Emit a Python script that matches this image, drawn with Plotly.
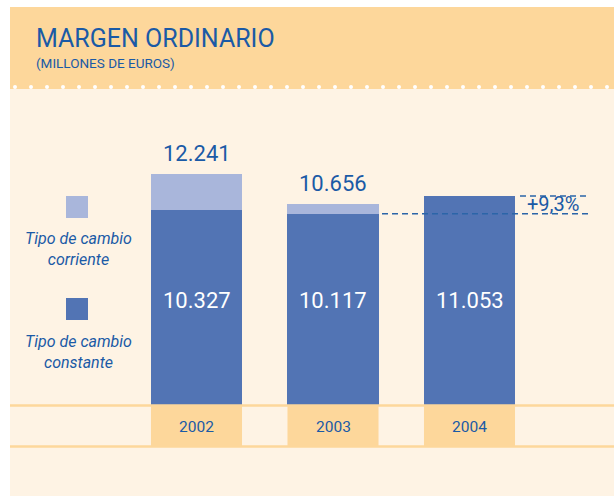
import plotly.graph_objects as go

years = ["2002", "2003", "2004"]
constante = [10327, 10117, 11053]
total = [12241, 10656, 11053]
corriente_extra = [t - c for t, c in zip(total, constante)]
total_labels = ["12.241", "10.656", ""]
constante_labels = ["10.327", "10.117", "11.053"]
growth_label = "+9,3%"

W, H = 614, 496
DARK = "#5274b4"
LIGHT = "#a9b6db"
HEAD = "#fdd79b"
BODY = "#fef3e4"
TXT = "#1a5aa6"
FONT = "Roboto"

fig = go.Figure()
fig.add_trace(go.Bar(x=years, y=constante, marker=dict(color=DARK, line=dict(width=0)),
                     width=0.667, hoverinfo="skip"))
fig.add_trace(go.Bar(x=years, y=corriente_extra, marker=dict(color=LIGHT, line=dict(width=0)),
                     width=0.667, hoverinfo="skip"))

def px(x):
    return x / W

def py(y):
    return 1 - y / H

shapes = []
# backgrounds
shapes.append(dict(type="rect", xref="paper", yref="paper", x0=px(10), x1=1, y0=0, y1=py(89),
                   fillcolor=BODY, line=dict(width=0), layer="below"))
shapes.append(dict(type="rect", xref="paper", yref="paper", x0=px(10), x1=1, y0=py(89), y1=py(7),
                   fillcolor=HEAD, line=dict(width=0), layer="below"))
# dotted line
x = 15
while x < W:
    shapes.append(dict(type="circle", xref="paper", yref="paper",
                       x0=px(x - 2), x1=px(x + 2), y0=py(89), y1=py(85),
                       fillcolor="white", line=dict(width=0), layer="below"))
    x += 16
# year boxes
for i, yr in enumerate(years):
    shapes.append(dict(type="rect", xref="x", yref="paper", x0=i - 0.3335, x1=i + 0.3335,
                       y0=py(446), y1=py(405), fillcolor=HEAD, line=dict(width=0), layer="below"))
# horizontal rules
for yy in (405.5, 446.5):
    shapes.append(dict(type="line", xref="paper", yref="paper", x0=px(10), x1=1, y0=py(yy), y1=py(yy),
                       line=dict(color=HEAD, width=2.5), layer="above"))
# legend squares
shapes.append(dict(type="rect", xref="paper", yref="paper", x0=px(66), x1=px(88), y0=py(218), y1=py(196),
                   fillcolor=LIGHT, line=dict(width=0)))
shapes.append(dict(type="rect", xref="paper", yref="paper", x0=px(66), x1=px(88), y0=py(320), y1=py(298),
                   fillcolor=DARK, line=dict(width=0)))
# dashed growth lines
shapes.append(dict(type="line", xref="paper", yref="y", x0=px(382), x1=px(590),
                   y0=constante[1], y1=constante[1], line=dict(color="#2b65a8", width=1.5, dash="6px,4px")))
shapes.append(dict(type="line", xref="paper", yref="y", x0=px(520), x1=px(590),
                   y0=constante[2], y1=constante[2], line=dict(color="#2b65a8", width=1.5, dash="6px,4px")))

ann = []
ann.append(dict(text="MARGEN ORDINARIO", xref="paper", yref="paper", x=px(34), y=py(39),
                xanchor="left", yanchor="middle", showarrow=False,
                font=dict(family=FONT, size=25, color=TXT)))
ann.append(dict(text="(MILLONES DE EUROS)", xref="paper", yref="paper", x=px(34), y=py(63),
                xanchor="left", yanchor="middle", showarrow=False,
                font=dict(family=FONT, size=13.5, color=TXT)))
for i, yr in enumerate(years):
    if total_labels[i]:
        ann.append(dict(text=total_labels[i], xref="x", yref="y", x=i, y=total[i], yshift=20,
                        showarrow=False, xanchor="center", yanchor="middle",
                        font=dict(family=FONT, size=22, color=TXT)))
    ann.append(dict(text=constante_labels[i], xref="x", yref="y", x=i, y=5550, showarrow=False,
                    xanchor="center", yanchor="middle",
                    font=dict(family=FONT, size=22, color="white")))
    ann.append(dict(text=yr, xref="x", yref="paper", x=i, y=py(426.5), showarrow=False,
                    xanchor="center", yanchor="middle",
                    font=dict(family=FONT, size=15.5, color=TXT)))
ann.append(dict(text=growth_label, xref="paper", yref="paper", x=px(553), y=py(204),
                showarrow=False, xanchor="center", yanchor="middle",
                font=dict(family=FONT, size=20, color=TXT)))
ann.append(dict(text="<i>Tipo de cambio<br>corriente</i>", xref="paper", yref="paper", x=px(78), y=py(249),
                showarrow=False, xanchor="center", yanchor="middle", align="center",
                font=dict(family=FONT, size=16, color=TXT)))
ann.append(dict(text="<i>Tipo de cambio<br>constante</i>", xref="paper", yref="paper", x=px(78), y=py(352),
                showarrow=False, xanchor="center", yanchor="middle", align="center",
                font=dict(family=FONT, size=16, color=TXT)))

k = 0.0189
fig.update_layout(
    width=W, height=H, margin=dict(l=0, r=0, t=0, b=0),
    paper_bgcolor="white", plot_bgcolor="rgba(0,0,0,0)",
    barmode="stack", showlegend=False,
    xaxis=dict(type="category", range=[-196.5 / 136.5, (W - 196.5) / 136.5], visible=False, fixedrange=True),
    yaxis=dict(range=[-(H - 405) / k, 405 / k], visible=False, fixedrange=True),
    shapes=shapes, annotations=ann,
)
fig.write_html("out.html", config={"displayModeBar": False},
               post_script="document.body.style.margin='0';document.body.style.overflow='hidden';")
